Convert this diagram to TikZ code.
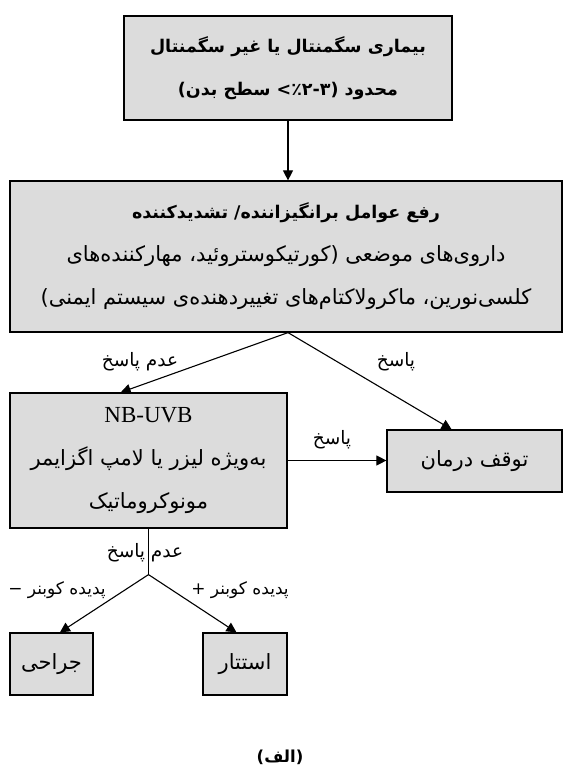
\documentclass[tikz,border=0pt]{standalone}
\usepackage{fontspec}
\setmainfont{Liberation Serif}
\newfontfamily\fa[Script=Arabic]{DejaVu Sans}
\TeXXeTstate=1
\usetikzlibrary{arrows.meta,calc}
\newcommand\RL[1]{\beginR#1\endR}
\newcommand\bd{\bfseries\fontsize{17.5}{43}\selectfont}
\definecolor{boxgray}{RGB}{220,220,220}
\begin{document}
\begin{tikzpicture}[x=1pt,y=-1pt,
  box/.style={draw=black,line width=1.2pt,fill=boxgray,rectangle,inner sep=0pt,align=center,
    font=\fa\fontsize{21}{43}\selectfont},
  arr/.style={-{Triangle[length=10pt,width=10pt]},line width=1.1pt},
  plain/.style={line width=1.1pt},
  lbl/.style={inner sep=0pt,font=\fa\fontsize{18.5}{20}\selectfont},
  slbl/.style={inner sep=0pt,font=\fa\fontsize{17}{20}\selectfont}]
\useasboundingbox (0,0) rectangle (570,776);

\node[box,minimum width=328pt,minimum height=104pt] (top) at (288,68)
  {\RL{\bd بیماری سگمنتال یا غیر سگمنتال}\\
   \RL{\bd محدود (٪۲-۳> سطح بدن)}};

\node[box,minimum width=552pt,minimum height=151pt] (mid) at (286,256.5)
  {\RL{\bd رفع عوامل برانگیزاننده/ تشدیدکننده}\\
   \RL{داروی^^^^200cهای موضعی (کورتیکوستروئید، مهارکننده^^^^200cهای}\\
   \RL{کلسی^^^^200cنورین، ماکرولاکتام^^^^200cهای تغییردهنده^^^^200cی سیستم ایمنی)}};

\node[box,minimum width=277pt,minimum height=135pt] (lb) at (148.5,460.5)
  {{\rmfamily\fontsize{23}{43}\selectfont NB-UVB}\\
   \RL{به^^^^200cویژه لیزر یا لامپ اگزایمر}\\
   \RL{مونوکروماتیک}};

\node[box,minimum width=175pt,minimum height=62pt] (rb) at (474.5,461)
  {\RL{توقف درمان}};

\node[box,minimum width=83pt,minimum height=62pt] (jb) at (51.5,664)
  {\RL{جراحی}};

\node[box,minimum width=84pt,minimum height=62pt] (eb) at (245,664)
  {\RL{استتار}};

\draw[arr] (top.south) -- (top.south |- mid.north);
\coordinate (m) at (mid.south -| top.south);
\draw[arr] (m) -- ($(lb.north west)!0.4!(lb.north east)$);
\draw[arr] (m) -- ($(rb.north west)!0.37!(rb.north east)$);
\draw[arr] (lb.east) -- (lb.east -| rb.west);
\coordinate (sp) at ($(lb.south)+(0,46)$);
\draw[plain] (lb.south) -- (sp);
\draw[arr] (sp) -- ($(jb.north west)!0.6!(jb.north east)$);
\draw[arr] (sp) -- ($(eb.north west)!0.4!(eb.north east)$);

\node[lbl] (l1) at (140,362) {\RL{عدم پاسخ}};
\node[lbl] (l2) at (396,362) {\RL{پاسخ}};
\node[lbl] (l3) at (332,440) {\RL{پاسخ}};
\node[lbl] (l4) at (145,553) {\RL{عدم پاسخ}};
\node[slbl] (l5) at (57,590) {\RL{پدیده کوبنر −}};
\node[slbl] (l6) at (240,590) {\RL{پدیده کوبنر +}};
\node[lbl,font=\fa\bfseries\fontsize{16.5}{18}\selectfont] (cap) at (280,757) {\RL{(الف)}};
\end{tikzpicture}
\end{document}
